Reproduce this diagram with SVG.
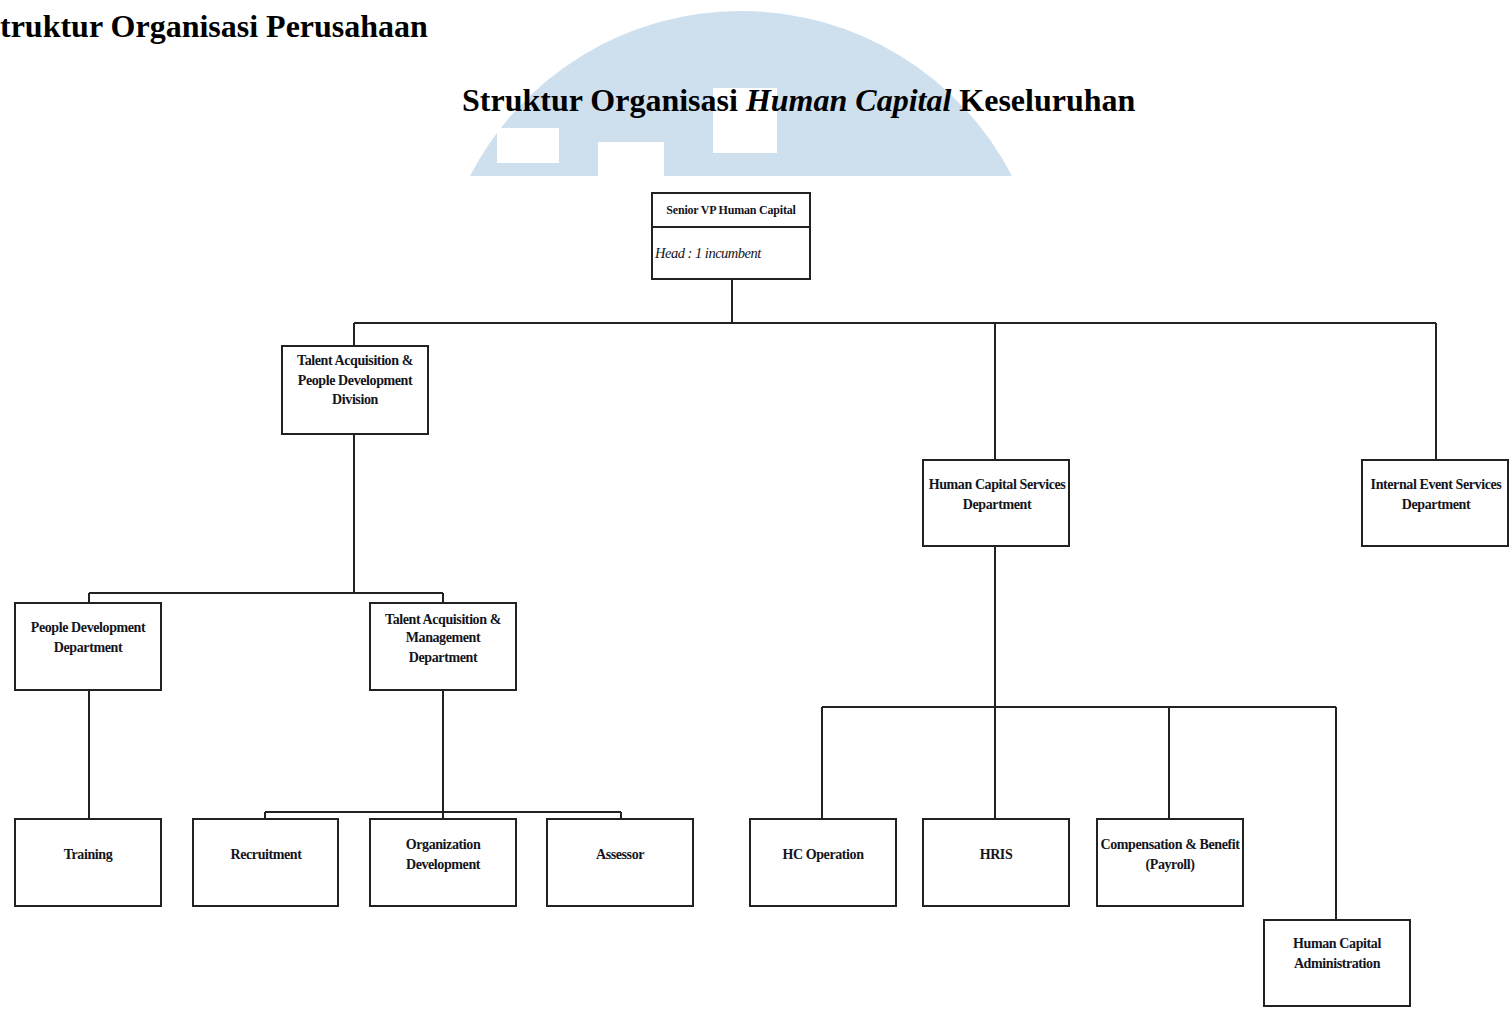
<svg xmlns="http://www.w3.org/2000/svg" width="1512" height="1013" viewBox="0 0 1512 1013">
<style>
.box{fill:#fff;stroke:#222;stroke-width:2}
.t{font-family:"Liberation Serif","Times New Roman",serif;font-weight:bold;font-size:14px;fill:#141420;text-anchor:middle;letter-spacing:-0.4px}
.con{fill:none;stroke:#222;stroke-width:2}
.title{font-family:"Liberation Serif","Times New Roman",serif;font-weight:bold;font-size:32px;fill:#000}
</style>
<rect width="1512" height="1013" fill="#fff"/>
<g id="watermark">
<path d="M470,176 A305,305 0 0 1 1012,176 Z" fill="#cedfee"/>
<rect x="497" y="128" width="62" height="35" fill="#fff"/>
<rect x="598" y="142" width="66" height="34" fill="#fff"/>
<rect x="713" y="88" width="64" height="65" fill="#fff"/>
</g>
<text class="title" x="0" y="37">truktur Organisasi Perusahaan</text>
<text class="title" x="462" y="111">Struktur Organisasi <tspan font-style="italic">Human Capital</tspan> Keseluruhan</text>
<g id="connectors">
<path class="con" d="M732,279 V323 M354,323 H1436 M354,323 V346 M995,323 V460 M1436,323 V460"/>
<path class="con" d="M354,434 V593 M89,593 H443 M89,593 V603 M443,593 V603"/>
<path class="con" d="M89,690 V819"/>
<path class="con" d="M443,690 V819 M265,812 H621 M265,812 V819 M621,812 V819"/>
<path class="con" d="M995,546 V819 M822,707 H1336 M822,707 V819 M1169,707 V819 M1336,707 V920"/>
</g>
<g id="senior-vp">
<rect class="box" x="652" y="193" width="158" height="86"/>
<line x1="652" y1="227" x2="810" y2="227" stroke="#222" stroke-width="2"/>
<text class="t" x="731" y="214" style="font-size:12px;letter-spacing:-0.2px">Senior VP Human Capital</text>
<text x="655" y="258" style="font-family:'Liberation Serif',serif;font-style:italic;font-size:14.5px;fill:#141420;letter-spacing:-0.5px">Head : 1 incumbent</text>
</g>
<g id="ta-pd-division">
<rect class="box" x="282" y="346" width="146" height="88"/>
<text class="t" x="355" y="365">Talent Acquisition &amp;</text>
<text class="t" x="355" y="385">People Development</text>
<text class="t" x="355" y="404">Division</text>
</g>
<g id="hcs-dept">
<rect class="box" x="923" y="460" width="146" height="86"/>
<text class="t" x="997" y="489">Human Capital Services</text>
<text class="t" x="997" y="509">Department</text>
</g>
<g id="ies-dept">
<rect class="box" x="1362" y="460" width="146" height="86"/>
<text class="t" x="1436" y="489">Internal Event Services</text>
<text class="t" x="1436" y="509">Department</text>
</g>
<g id="pd-dept">
<rect class="box" x="15" y="603" width="146" height="87"/>
<text class="t" x="88" y="632">People Development</text>
<text class="t" x="88" y="652">Department</text>
</g>
<g id="tam-dept">
<rect class="box" x="370" y="603" width="146" height="87"/>
<text class="t" x="443" y="624">Talent Acquisition &amp;</text>
<text class="t" x="443" y="642">Management</text>
<text class="t" x="443" y="662">Department</text>
</g>
<g id="training">
<rect class="box" x="15" y="819" width="146" height="87"/>
<text class="t" x="88" y="859">Training</text>
</g>
<g id="recruitment">
<rect class="box" x="193" y="819" width="145" height="87"/>
<text class="t" x="266" y="859">Recruitment</text>
</g>
<g id="org-dev">
<rect class="box" x="370" y="819" width="146" height="87"/>
<text class="t" x="443" y="849">Organization</text>
<text class="t" x="443" y="869">Development</text>
</g>
<g id="assessor">
<rect class="box" x="547" y="819" width="146" height="87"/>
<text class="t" x="620" y="859">Assessor</text>
</g>
<g id="hc-operation">
<rect class="box" x="750" y="819" width="146" height="87"/>
<text class="t" x="823" y="859">HC Operation</text>
</g>
<g id="hris">
<rect class="box" x="923" y="819" width="146" height="87"/>
<text class="t" x="996" y="859">HRIS</text>
</g>
<g id="comp-benefit">
<rect class="box" x="1097" y="819" width="146" height="87"/>
<text class="t" x="1170" y="849">Compensation &amp; Benefit</text>
<text class="t" x="1170" y="869">(Payroll)</text>
</g>
<g id="hc-admin">
<rect class="box" x="1264" y="920" width="146" height="86"/>
<text class="t" x="1337" y="948">Human Capital</text>
<text class="t" x="1337" y="968">Administration</text>
</g>
</svg>
